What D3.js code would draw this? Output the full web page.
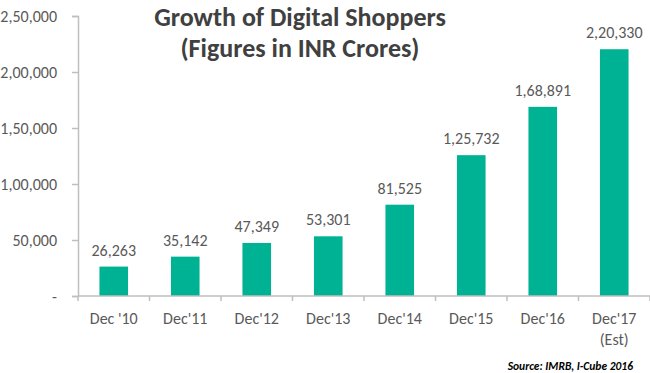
<!DOCTYPE html>
<html>
<head>
<meta charset="utf-8">
<script src="https://cdn.jsdelivr.net/npm/d3@7"></script>
<style>
  body { margin: 0; background: #fff; }
  svg text { font-family: Calibri, Carlito, Lato, sans-serif; }
</style>
</head>
<body>
<svg width="650" height="373"></svg>
<script>
// chart data
var categories = ["Dec '10", "Dec'11", "Dec'12", "Dec'13", "Dec'14", "Dec'15", "Dec'16", "Dec'17\n(Est)"];
var values = [26263, 35142, 47349, 53301, 81525, 125732, 168891, 220330];
var yTicks = [0, 50000, 100000, 150000, 200000, 250000];
var titleLines = ["Growth of Digital Shoppers", "(Figures in INR Crores)"];
var source = "Source: IMRB, I-Cube 2016";

var svg = d3.select("svg");
var axisColor = "#bfbfbf", textColor = "#595959";

// Indian number format, e.g. 2,20,330
function inr(n) {
  if (n === 0) return "-";
  var s = String(n);
  var last3 = s.slice(-3), rest = s.slice(0, -3);
  if (!rest) return last3;
  return rest.replace(/\B(?=(\d{2})+(?!\d))/g, ",") + "," + last3;
}

var x = d3.scaleBand().domain(categories).range([78, 650]).paddingInner(0.6).paddingOuter(0.3);
var xb = d3.scaleBand().domain(categories).range([78, 650]);
var y = d3.scaleLinear().domain([0, 250000]).range([296, 16]);

// y axis
var ya = svg.append("g").attr("transform", "translate(78,0)")
  .call(d3.axisLeft(y).tickValues(yTicks).tickSize(6).tickPadding(15).tickFormat(inr));
ya.select(".domain").attr("stroke", axisColor).attr("stroke-width", 1.5);
ya.selectAll(".tick line").attr("stroke", axisColor).attr("stroke-width", 1.5);
ya.selectAll(".tick text").attr("fill", textColor).style("font-size", "16px");

// bars
svg.selectAll("rect.bar")
  .data(values)
  .enter().append("rect")
    .attr("class", "bar")
    .attr("x", function(d, i) { return x(categories[i]); })
    .attr("y", function(d) { return y(d); })
    .attr("width", x.bandwidth())
    .attr("height", function(d) { return y(0) - y(d); })
    .attr("fill", "#00b294");

// value labels
svg.selectAll("text.val")
  .data(values)
  .enter().append("text")
    .attr("class", "val")
    .attr("x", function(d, i) { return x(categories[i]) + x.bandwidth() / 2; })
    .attr("y", function(d) { return y(d) - 11; })
    .attr("text-anchor", "middle")
    .attr("fill", textColor)
    .style("font-size", "16px")
    .text(inr);

// x axis line and ticks at band edges
svg.append("line")
  .attr("x1", 78).attr("x2", 650).attr("y1", y(0)).attr("y2", y(0))
  .attr("stroke", axisColor).attr("stroke-width", 1.5);
var edges = categories.map(function(c) { return xb(c); }).concat([650]);
svg.selectAll("line.xt")
  .data(edges)
  .enter().append("line")
    .attr("class", "xt")
    .attr("x1", function(d) { return d; }).attr("x2", function(d) { return d; })
    .attr("y1", y(0)).attr("y2", y(0) + 5)
    .attr("stroke", axisColor).attr("stroke-width", 1.5);

// category labels
var cl = svg.selectAll("text.cat")
  .data(categories)
  .enter().append("text")
    .attr("class", "cat")
    .attr("x", function(d) { return xb(d) + xb.bandwidth() / 2; })
    .attr("y", 324)
    .attr("text-anchor", "middle")
    .attr("fill", textColor)
    .style("font-size", "16px");
cl.selectAll("tspan")
  .data(function(d) { return d.split("\n"); })
  .enter().append("tspan")
    .attr("x", function() { return d3.select(this.parentNode).attr("x"); })
    .attr("dy", function(d, i) { return i ? 21 : 0; })
    .text(function(d) { return d; });

// title
svg.selectAll("text.title")
  .data(titleLines)
  .enter().append("text")
    .attr("class", "title")
    .attr("x", 300)
    .attr("y", function(d, i) { return 26 + i * 31; })
    .attr("text-anchor", "middle")
    .attr("fill", "#404040")
    .style("font-size", "26px")
    .style("font-weight", "bold")
    .text(function(d) { return d; });

// source note
svg.append("text")
  .attr("x", 633).attr("y", 370)
  .attr("text-anchor", "end")
  .attr("fill", "#000")
  .style("font-size", "11.5px")
  .style("font-weight", "bold")
  .style("font-style", "italic")
  .text(source);
</script>
</body>
</html>
